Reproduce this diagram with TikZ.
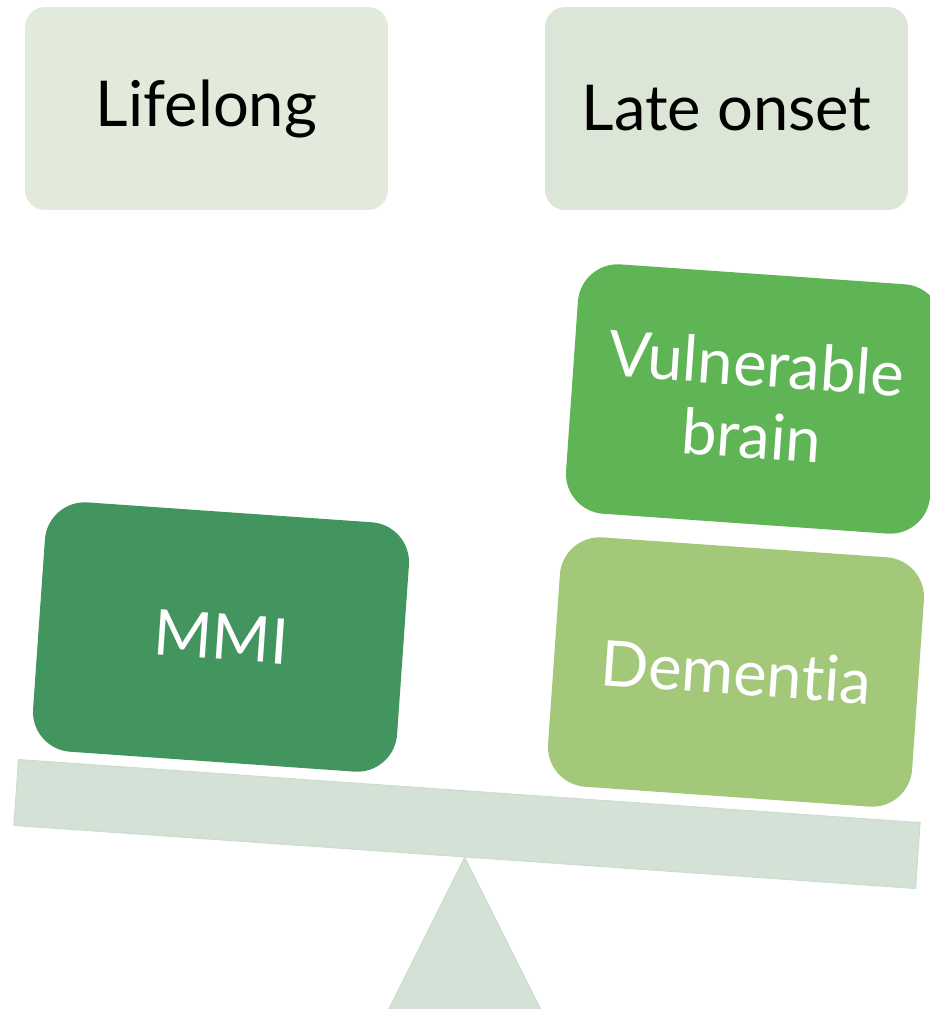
\documentclass[tikz,border=0pt]{standalone}
\usepackage{fontspec}
\setmainfont{Lato}[Ligatures=NoCommon]
\usetikzlibrary{positioning}
\definecolor{headerleft}{HTML}{E2EBDB}
\definecolor{headerright}{HTML}{DCE6D6}
\definecolor{mmifill}{HTML}{43955F}
\definecolor{brainfill}{HTML}{5FB556}
\definecolor{dementiafill}{HTML}{A3C87A}
\definecolor{scalefill}{HTML}{D3E1D6}
\definecolor{scaleedge}{HTML}{CCDDCC}

\begin{document}
\begin{tikzpicture}[
    x=0.02cm, y=-0.02cm,
    header/.style={
        rounded corners=0.4cm,
        minimum width=7.26cm,
        minimum height=4.06cm,
        font=\fontsize{36}{42}\selectfont,
        text=black
    },
    weight/.style={
        rounded corners=0.8cm,
        minimum width=7.3cm,
        minimum height=5cm,
        rotate=-4,
        align=center,
        text=white,
        font=\fontsize{36}{41}\selectfont
    },
    scalepart/.style={
        fill=scalefill,
        draw=scaleedge,
        line width=0.6pt
    }
]
    \useasboundingbox (0,0) rectangle (930,1009);

    \node[header, fill=headerleft] (lifelong) at (206.5,108.5) {Lifelong};
    \node[header, fill=headerright] (late) at (726.5,108.5) {Late onset};

    \node[scalepart, rotate=-4, minimum width=18.08cm, minimum height=1.32cm, inner sep=0pt] (beam) at (467,824) {};
    \draw[scalepart] (beam.south) -- ++(76,152) -- ++(-152,0) -- cycle;

    \node[weight, fill=mmifill] (mmi) at (221,637) {MMI};
    \node[weight, fill=brainfill] (brain) at (754,399) {Vulnerable\\brain};
    \node[weight, fill=dementiafill] (dementia) at (736,672) {Dementia};
\end{tikzpicture}
\end{document}
